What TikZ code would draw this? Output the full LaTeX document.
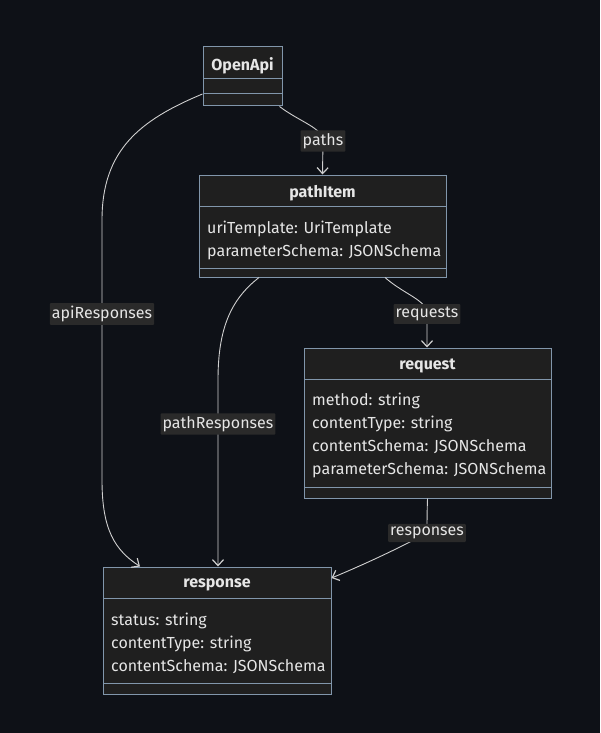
\documentclass[tikz,border=0pt]{standalone}
\usepackage{fontspec}
\setmainfont{Fira Sans}
\usetikzlibrary{arrows.meta,calc}
\definecolor{bgc}{HTML}{0E1117}
\definecolor{boxfill}{HTML}{1F1F1F}
\definecolor{boxline}{HTML}{8196AB}
\definecolor{txt}{HTML}{E6E6E6}
\definecolor{edgec}{HTML}{D0D0D0}
\definecolor{lblbg}{HTML}{2A2A2A}
\tikzset{
  classbox/.style={draw=boxline, fill=boxfill, line width=1pt, inner sep=0pt},
  title/.style={text=txt, font=\fontsize{16}{19}\selectfont\bfseries, inner sep=0pt},
  attr/.style={text=txt, font=\fontsize{16}{19}\selectfont, inner sep=0pt, anchor=west},
  sep/.style={draw=boxline, line width=1pt},
  edge/.style={draw=edgec, line width=0.9pt, -{Straight Barb[length=6pt,width=11pt,line width=1.2pt]}},
  elabel/.style={fill=lblbg, text=txt, font=\fontsize{16}{19}\selectfont, inner xsep=2pt, inner ysep=3pt, rounded corners=1pt}
}
\begin{document}
\begin{tikzpicture}[x=1pt,y=-1pt]
\useasboundingbox[fill=bgc] (0,0) rectangle (600,733);

% class boxes
\node[classbox, minimum width=79pt, minimum height=59pt] (oa) at (242.5,76.5) {};
\node[classbox, minimum width=247pt, minimum height=102pt] (pi) at (322.5,226) {};
\node[classbox, minimum width=247pt, minimum height=150pt] (rq) at (427.5,423) {};
\node[classbox, minimum width=228pt, minimum height=127pt] (rs) at (217,630.5) {};

% separators
\draw[sep] (203,79) -- (282,79);
\draw[sep] (203,94) -- (282,94);
\draw[sep] (199,206) -- (446,206);
\draw[sep] (199,268) -- (446,268);
\draw[sep] (304,379) -- (551,379);
\draw[sep] (304,487) -- (551,487);
\draw[sep] (103,598) -- (331,598);
\draw[sep] (103,683) -- (331,683);

% titles
\node[title] (toa) at (242.5,66) {OpenApi};
\node[title] (tpi) at (322.5,193) {pathItem};
\node[title] (trq) at (427.5,366) {request};
\node[title] (trs) at (217,585) {response};

% attributes
\node[attr] (pi1) at (207,229) {uriTemplate: UriTemplate};
\node[attr] (pi2) at (207,252) {parameterSchema: JSONSchema};
\node[attr] (rq1) at (312,401) {method: string};
\node[attr] (rq2) at (312,424) {contentType: string};
\node[attr] (rq3) at (312,447) {contentSchema: JSONSchema};
\node[attr] (rq4) at (312,470) {parameterSchema: JSONSchema};
\node[attr] (rs1) at (111,621) {status: string};
\node[attr] (rs2) at (111,644) {contentType: string};
\node[attr] (rs3) at (111,667) {contentSchema: JSONSchema};

% label anchor coordinates
\coordinate (cpaths) at (323,141);
\coordinate (capi) at (102,314);
\coordinate (cpath) at (218,424);
\coordinate (creq) at (427,314);
\coordinate (cresp) at (427,533);

% edges
\draw[edge] ([xshift=-3pt]oa.south east) .. controls (300,122) and (323,128) .. (cpaths) -- (pi.north);
\draw[edge] ([yshift=-17.5pt]oa.west) .. controls (140,120) and (102,150) .. (102,220) -- (capi) -- (102,480) .. controls (102,530) and (115,550) .. ([xshift=-77pt]rs.north);
\draw[edge] ([xshift=-63.5pt]pi.south) .. controls (230,300) and (218,330) .. (218,380) -- (cpath) -- ([xshift=1pt]rs.north);
\draw[edge] ([xshift=62.5pt]pi.south) .. controls (405,295) and (427,300) .. (creq) -- ([xshift=-0.5pt]rq.north);
\draw[edge] (rq.south) .. controls (427,515) and (427,522) .. (cresp) .. controls (405,545) and (370,562) .. ([yshift=52.5pt]rs.east);

% edge labels
\node[elabel] (lpaths) at (cpaths) {paths};
\node[elabel] (lapi) at (capi) {apiResponses};
\node[elabel] (lpath) at (cpath) {pathResponses};
\node[elabel] (lreq) at (creq) {requests};
\node[elabel] (lresp) at (cresp) {responses};
\end{tikzpicture}
\end{document}
